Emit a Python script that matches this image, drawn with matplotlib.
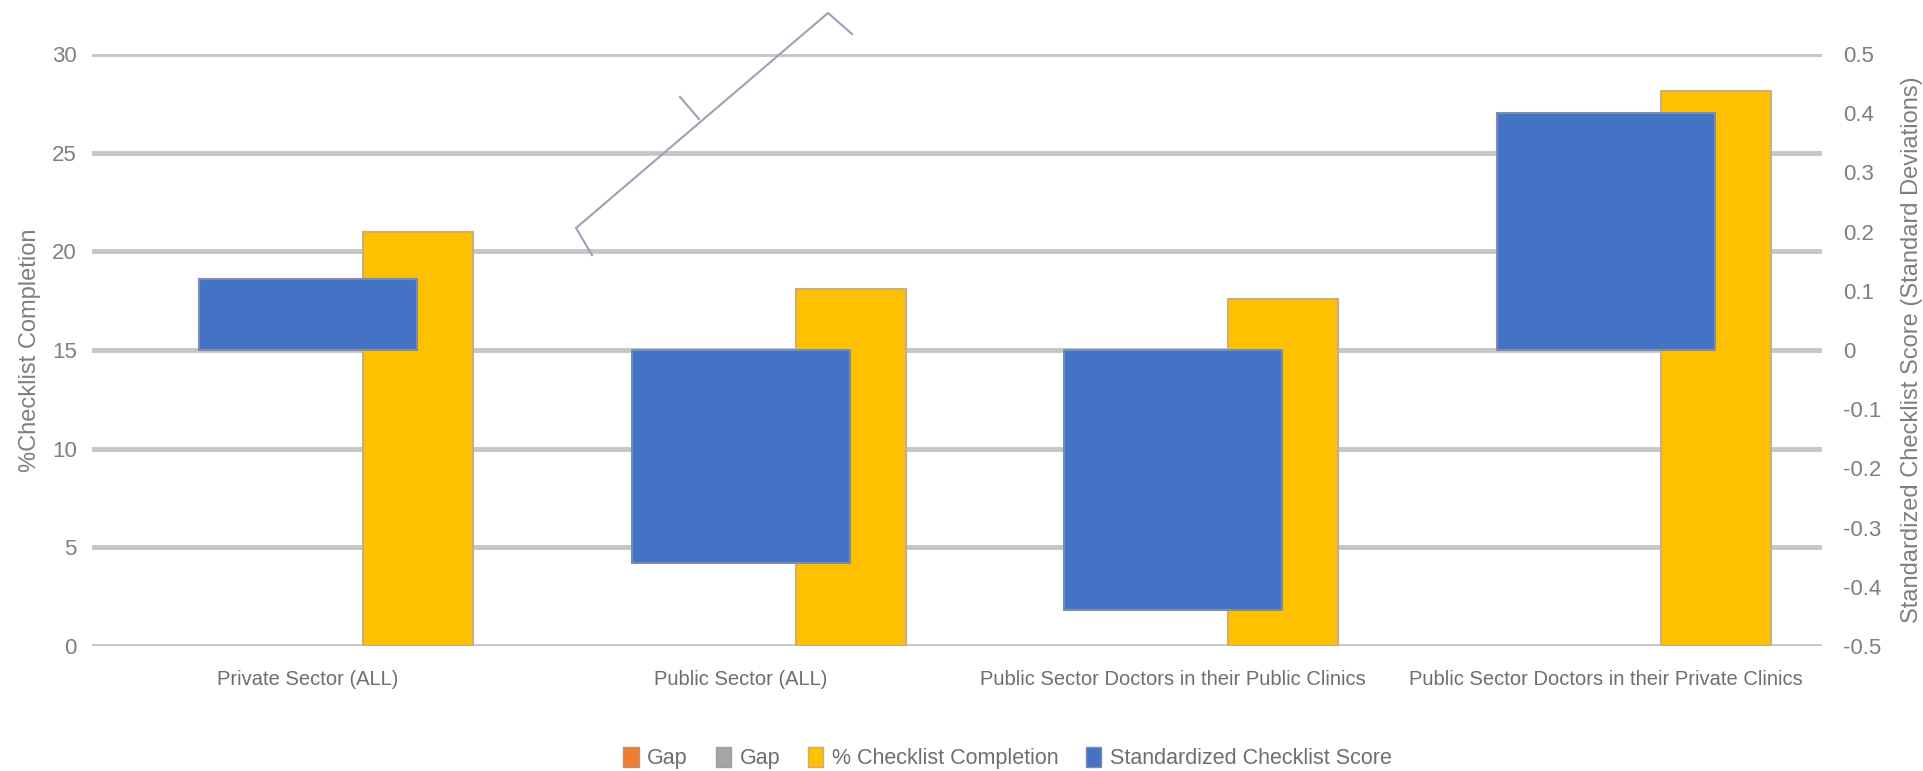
import matplotlib
matplotlib.use("Agg")
import matplotlib.pyplot as plt
import numpy as np
from matplotlib.patches import Patch
from matplotlib.lines import Line2D

plt.rcParams['font.family'] = ['Liberation Sans', 'DejaVu Sans']

categories = ["Private Sector (ALL)", "Public Sector (ALL)",
              "Public Sector Doctors in their Public Clinics",
              "Public Sector Doctors in their Private Clinics"]
gap_a = [0, 0, 0, 0]
gap_b = [0, 0, 0, 0]
pct_checklist = [21.0, 18.1, 17.6, 28.1]
std_score = [0.12, -0.36, -0.44, 0.40]

left_ticks = [0, 5, 10, 15, 20, 25, 30]
right_ticks = [-0.5, -0.4, -0.3, -0.2, -0.1, 0, 0.1, 0.2, 0.3, 0.4, 0.5]

# stray bracket shape left on the original chart (figure fractions)
bracket_x = [592 / 1923, 576 / 1923, 828 / 1923, 852 / 1923]
bracket_y = [1 - 255 / 771, 1 - 228 / 771, 1 - 13 / 771, 1 - 34 / 771]
bracket_tick_x = [680 / 1923, 699 / 1923]
bracket_tick_y = [1 - 97 / 771, 1 - 119 / 771]

grey_txt = '#7f7f7f'
x = np.arange(len(categories))
w = 0.254

fig = plt.figure(figsize=(19.23, 7.71), dpi=100)
ax = fig.add_axes([0.0478, 0.1621, 0.8997, 0.7679])
ax2 = ax.twinx()

ax.bar(x - w, gap_a, w, color='#ED7D31', linewidth=0)
ax.bar(x, gap_b, w, color='#A5A5A5', linewidth=0)
ax.bar(x + w, pct_checklist, w, color='#FFC000', edgecolor='#c9b07a', linewidth=1.5, zorder=3)
ax2.bar(x, std_score, 0.504, color='#4472C4', edgecolor='#7d8db0', linewidth=1.5, zorder=3)

ax.set_xlim(-0.5, 3.5)
ax.set_ylim(0, 30)
ax2.set_ylim(-0.5, 0.5)
ax.set_yticks(left_ticks)
ax.set_yticklabels([str(t) for t in left_ticks])
ax2.set_yticks(right_ticks)
ax2.set_yticklabels(['0' if t == 0 else ('%g' % t) for t in right_ticks])
ax.set_xticks(x)
ax.set_xticklabels(categories, fontsize=14.5, color='#6e6e6e')

ax.grid(axis='y', color='#c6c6c6', linewidth=3.5)
ax.set_axisbelow(True)
for a in (ax, ax2):
    for s in a.spines.values():
        s.set_visible(False)
    a.tick_params(length=0)
ax.tick_params(axis='y', labelsize=16, labelcolor=grey_txt, pad=11)
ax.tick_params(axis='x', pad=17)
ax2.tick_params(axis='y', labelsize=16, labelcolor=grey_txt, pad=15)

ax.set_ylabel('%Checklist Completion', fontsize=17, color=grey_txt, labelpad=8)
ax2.set_ylabel('Standardized Checklist Score (Standard Deviations)', fontsize=17,
               color=grey_txt, labelpad=14)

handles = [Patch(facecolor='#ED7D31', edgecolor='#c09070'),
           Patch(facecolor='#A5A5A5', edgecolor='#a0a0a0'),
           Patch(facecolor='#FFC000', edgecolor='#c9b07a'),
           Patch(facecolor='#4472C4', edgecolor='#7d8db0')]
labels = ['Gap', 'Gap', '% Checklist Completion', 'Standardized Checklist Score']
fig.legend(handles, labels, loc='center', bbox_to_anchor=(0.524, 0.017), ncol=4,
           frameon=False, fontsize=15.5, labelcolor='#6e6e6e', handlelength=0.7,
           handleheight=1.1, handletextpad=0.4, columnspacing=1.3)

fig.add_artist(Line2D(bracket_x, bracket_y, color='#9aa2b4', linewidth=1.5))
fig.add_artist(Line2D(bracket_tick_x, bracket_tick_y, color='#9aa2b4', linewidth=1.5))

fig.savefig('out.png', dpi=100)
